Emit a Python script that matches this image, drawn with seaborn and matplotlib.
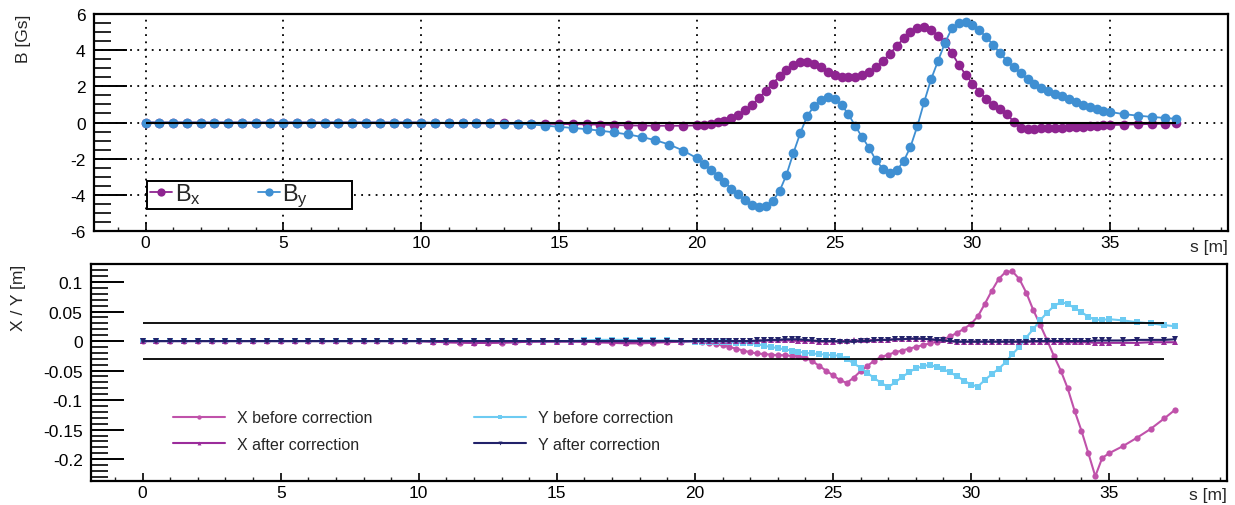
import matplotlib
matplotlib.use("Agg")
import matplotlib.pyplot as plt
import seaborn as sns
from matplotlib.ticker import MultipleLocator, FuncFormatter
from matplotlib.patches import Rectangle

# ---------------- data ----------------
s_flat = [0, 0.5, 1, 1.5, 2, 2.5, 3, 3.5, 4, 4.5, 5, 5.5, 6, 6.5, 7, 7.5, 8, 8.5, 9, 9.5, 10]
s_mid = [10.5, 11, 11.5, 12, 12.5, 13, 13.5, 14, 14.5, 15,
         15.5, 16, 16.5, 17, 17.5, 18, 18.5, 19, 19.5, 20]
s_fine = [20.25, 20.5, 20.75, 21, 21.25, 21.5, 21.75, 22, 22.25, 22.5, 22.75, 23,
          23.25, 23.5, 23.75, 24, 24.25, 24.5, 24.75, 25, 25.25, 25.5, 25.75, 26,
          26.25, 26.5, 26.75, 27, 27.25, 27.5, 27.75, 28, 28.25, 28.5, 28.75, 29,
          29.25, 29.5, 29.75, 30, 30.25, 30.5, 30.75, 31, 31.25, 31.5, 31.75, 32,
          32.25, 32.5, 32.75, 33, 33.25, 33.5, 33.75, 34, 34.25, 34.5, 34.75, 35]
s_end = [35.5, 36, 36.5, 37, 37.4]
s = s_flat + s_mid + s_fine + s_end

Bx = ([0.0] * 21
      + [-0.03, -0.03, -0.04, -0.04, -0.05, -0.05, -0.06, -0.06, -0.07, -0.08,
         -0.09, -0.1, -0.12, -0.14, -0.16, -0.17, -0.18, -0.18, -0.18, -0.16]
      + [-0.12, -0.06, 0.02, 0.11, 0.24, 0.42, 0.67, 0.98, 1.35, 1.75, 2.15, 2.55,
         2.9, 3.17, 3.32, 3.36, 3.26, 3.06, 2.82, 2.63, 2.53, 2.5, 2.52, 2.6,
         2.78, 3.05, 3.4, 3.8, 4.22, 4.65, 5.0, 5.22, 5.27, 5.1, 4.8, 4.45,
         3.85, 3.2, 2.65, 2.15, 1.7, 1.3, 0.97, 0.73, 0.48, 0.02, -0.33, -0.35,
         -0.34, -0.32, -0.31, -0.3, -0.29, -0.27, -0.25, -0.23, -0.21, -0.19, -0.16, -0.14]
      + [-0.12, -0.1, -0.08, -0.06, -0.04])

By = ([0.0] * 21
      + [-0.01, -0.02, -0.02, -0.03, -0.04, -0.06, -0.08, -0.11, -0.17, -0.24,
         -0.3, -0.37, -0.45, -0.55, -0.66, -0.8, -0.98, -1.22, -1.55, -1.97]
      + [-2.3, -2.6, -2.95, -3.3, -3.65, -3.98, -4.3, -4.58, -4.66, -4.6, -4.35, -3.8,
         -2.9, -1.7, -0.6, 0.35, 0.9, 1.25, 1.42, 1.3, 0.98, 0.45, -0.2, -0.82,
         -1.4, -2.1, -2.55, -2.82, -2.65, -2.15, -1.35, -0.2, 1.15, 2.4, 3.4, 4.4,
         5.2, 5.5, 5.57, 5.4, 5.1, 4.72, 4.3, 3.85, 3.4, 3.05, 2.72, 2.4,
         2.12, 1.93, 1.76, 1.6, 1.44, 1.28, 1.12, 0.97, 0.86, 0.75, 0.66, 0.58]
      + [0.46, 0.38, 0.31, 0.25, 0.2])

X_before = ([0.0] * 21
            + [-0.001, -0.002, -0.003, -0.003, -0.003, -0.003, -0.002, -0.001, 0.0, 0.0,
               0.0, -0.001, -0.002, -0.003, -0.004, -0.004, -0.003, -0.002, -0.001, 0.0]
            + [-0.001, -0.003, -0.005, -0.007, -0.01, -0.013, -0.016, -0.019, -0.021, -0.022,
               -0.023, -0.024, -0.024, -0.025, -0.026, -0.028, -0.034, -0.042, -0.05, -0.058,
               -0.066, -0.071, -0.062, -0.051, -0.042, -0.033, -0.027, -0.023, -0.019, -0.016,
               -0.013, -0.01, -0.007, -0.004, -0.001, 0.003, 0.008, 0.014, 0.021, 0.029,
               0.042, 0.063, 0.085, 0.105, 0.117, 0.118, 0.105, 0.082, 0.053, 0.028,
               0.002, -0.025, -0.05, -0.08, -0.118, -0.152, -0.19, -0.229, -0.198, -0.19]
            + [-0.178, -0.164, -0.149, -0.131, -0.116])

Y_before = ([0.0] * 21
            + [0.0] * 10
            + [0.0, 0.001, 0.002, 0.002, 0.002, 0.001, 0.001, 0.001, 0.0, -0.001]
            + [-0.001, -0.001, -0.002, -0.002, -0.002, -0.003, -0.003, -0.003, -0.005, -0.008,
               -0.01, -0.012, -0.014, -0.016, -0.018, -0.02, -0.021, -0.022, -0.023, -0.024,
               -0.025, -0.03, -0.038, -0.045, -0.054, -0.063, -0.071, -0.078, -0.07, -0.061,
               -0.053, -0.046, -0.043, -0.04, -0.044, -0.048, -0.053, -0.06, -0.067, -0.074,
               -0.077, -0.066, -0.056, -0.047, -0.036, -0.022, -0.01, 0.006, 0.02, 0.035,
               0.048, 0.059, 0.066, 0.063, 0.056, 0.049, 0.041, 0.036, 0.036, 0.037]
            + [0.035, 0.032, 0.03, 0.027, 0.025])

X_after = ([0.0] * 21
           + [-0.001, -0.002, -0.002, -0.003, -0.003, -0.002, -0.002, -0.001, -0.001, -0.001,
              -0.001, -0.001, -0.002, -0.002, -0.003, -0.002, -0.002, -0.001, -0.001, 0.0]
           + [0.0, 0.0, 0.0, 0.0, 0.0, 0.0, 0.0, 0.0, 0.0, 0.001,
              0.001, 0.001, 0.001, 0.001, 0.0, 0.0, 0.0, -0.001, -0.001, -0.001,
              0.0, 0.0, 0.001, 0.001, 0.001, 0.002, 0.002, 0.002, 0.003, 0.003,
              0.004, 0.004, 0.004, 0.003, 0.002, 0.001, 0.0, -0.001, -0.001, -0.001,
              -0.001, -0.001, -0.001, -0.001, -0.001, -0.001, -0.001, -0.001, -0.001, -0.001,
              -0.001, -0.001, -0.002, -0.002, -0.002, -0.002, -0.002, -0.003, -0.003, -0.003]
           + [-0.003, -0.003, -0.002, -0.002, -0.002])

Y_after = ([0.0] * 21
           + [0.0] * 10
           + [0.0] * 10
           + [0.0, 0.0, 0.0, 0.0, 0.0, 0.0, 0.0, 0.0, 0.001, 0.001,
              0.002, 0.002, 0.003, 0.003, 0.003, 0.002, 0.001, 0.0, 0.0, 0.0,
              -0.001, -0.001, -0.001, 0.0, 0.0, 0.001, 0.002, 0.002, 0.003, 0.003,
              0.004, 0.004, 0.004, 0.003, 0.002, 0.001, 0.0, -0.001, -0.001, -0.001,
              -0.001, -0.001, -0.001, -0.001, -0.001, -0.001, -0.001, -0.001, 0.0, 0.0,
              0.0, 0.0, 0.0, 0.0, 0.0, 0.0, 0.0, 0.001, 0.001, 0.001]
           + [0.001, 0.002, 0.002, 0.002, 0.003])

aperture = 0.03
aperture_s = [0, 37]

top_labels = [r"$\mathregular{B_x}$", r"$\mathregular{B_y}$"]
bottom_labels = ["X before correction", "X after correction",
                 "Y before correction", "Y after correction"]

for arr in (Bx, By, X_before, Y_before, X_after, Y_after):
    assert len(arr) == len(s), len(arr)

# ---------------- style ----------------
sns.set_style("ticks")
plt.rcParams["font.family"] = ["Liberation Sans", "DejaVu Sans"]
plt.rcParams["axes.unicode_minus"] = False
plt.rcParams["mathtext.fontset"] = "custom"
plt.rcParams["mathtext.rm"] = "Liberation Sans"
plt.rcParams["mathtext.it"] = "Liberation Sans:italic"

c_bx = "#8E2490"
c_by = "#3F8FD2"
c_xb = "#C052AA"
c_xa = "#9B2C9B"
c_yb = "#6DCBF2"
c_ya = "#22226A"

FS = 12.5

W, H = 1235, 506
fig = plt.figure(figsize=(W / 100, H / 100), dpi=100)
ax1 = fig.add_axes([94 / W, 1 - 232 / H, (1228 - 94) / W, 217 / H])
ax2 = fig.add_axes([91 / W, 1 - 482 / H, (1227 - 91) / W, 217 / H])

xlim = (-1.87, 39.27)


def fmt(v, p):
    if abs(v) < 1e-9:
        return "0"
    return f"{v:g}"


def style_axes(ax, ymajor, yminor):
    ax.set_xlim(*xlim)
    for sp in ax.spines.values():
        sp.set_visible(True)
        sp.set_linewidth(1.6)
        sp.set_color("black")
    ax.xaxis.set_major_locator(MultipleLocator(5))
    ax.xaxis.set_minor_locator(MultipleLocator(1))
    ax.yaxis.set_major_locator(MultipleLocator(ymajor))
    ax.yaxis.set_minor_locator(MultipleLocator(yminor))
    ax.xaxis.set_major_formatter(FuncFormatter(fmt))
    ax.yaxis.set_major_formatter(FuncFormatter(fmt))
    ax.tick_params(axis="y", which="major", direction="in", length=24, width=1.4,
                   left=True, right=False, pad=6, labelsize=FS, colors="black")
    ax.tick_params(axis="y", which="minor", direction="in", length=12, width=1.4,
                   left=True, right=False)
    ax.tick_params(axis="x", which="major", direction="in", length=6, width=1.2,
                   bottom=True, top=False, pad=3, labelsize=FS, colors="black")
    ax.tick_params(axis="x", which="minor", direction="in", length=3, width=1.0,
                   bottom=True, top=False)


# ---------------- top panel ----------------
style_axes(ax1, 2, 0.5)
ax1.set_ylim(-6, 6)
ax1.grid(True, which="major", color="black", linestyle=(0, (1, 3)), linewidth=1.3)
sns.lineplot(x=s, y=Bx, ax=ax1, color=c_bx, marker="o", ms=7, mew=0, lw=1.3,
             label=top_labels[0], estimator=None)
sns.lineplot(x=s, y=By, ax=ax1, color=c_by, marker="o", ms=7, mew=0, lw=1.3,
             label=top_labels[1], estimator=None)
ax1.hlines(0, s[0], s[-1], color="black", lw=1.5, zorder=4)
ax1.set_ylabel("B [Gs]", loc="top", fontsize=FS)
ax1.yaxis.set_label_coords(-0.0556, 1.0)
ax1.set_xlabel("s [m]", loc="right", fontsize=FS)
ax1.xaxis.set_label_coords(1.0, -0.035)

h1, l1 = ax1.get_legend_handles_labels()
ax1.add_patch(Rectangle((147 / W, 1 - 210 / H), 205 / W, 28 / H, transform=fig.transFigure,
                        facecolor="white", edgecolor="black", lw=1.4, zorder=5, clip_on=False))
leg1 = ax1.legend(h1, l1, loc="center left", bbox_to_anchor=(150 / W, 1 - 196 / H),
                  bbox_transform=fig.transFigure, ncol=2, frameon=False, fontsize=17,
                  handlelength=0.95, handletextpad=0.1, columnspacing=2.4,
                  borderpad=0, borderaxespad=0, numpoints=1, markerscale=0.85)
leg1.set_zorder(6)

# ---------------- bottom panel ----------------
style_axes(ax2, 0.05, 0.01)
ax2.set_ylim(-0.237, 0.1305)
ax2.grid(False)
sns.lineplot(x=s, y=X_before, ax=ax2, color=c_xb, marker="o", ms=4.5, mew=0, lw=1.5,
             label=bottom_labels[0], estimator=None)
sns.lineplot(x=s, y=Y_before, ax=ax2, color=c_yb, marker="s", ms=5, mew=0, lw=1.5,
             label=bottom_labels[2], estimator=None)
sns.lineplot(x=s, y=X_after, ax=ax2, color=c_xa, marker="^", ms=4, mew=0, lw=1.5,
             label=bottom_labels[1], estimator=None)
sns.lineplot(x=s, y=Y_after, ax=ax2, color=c_ya, marker="v", ms=4, mew=0, lw=1.5,
             label=bottom_labels[3], estimator=None)
ax2.hlines([aperture, -aperture], aperture_s[0], aperture_s[1], color="black", lw=1.3, zorder=4)
ax2.set_ylabel("X / Y [m]", loc="top", fontsize=FS)
ax2.yaxis.set_label_coords(-0.057, 1.0)
ax2.set_xlabel("s [m]", loc="right", fontsize=FS)
ax2.xaxis.set_label_coords(1.0, -0.028)

h2, l2 = ax2.get_legend_handles_labels()
order = [l2.index(t) for t in bottom_labels]
leg2 = ax2.legend([h2[i] for i in order], [l2[i] for i in order], loc="center left",
                  bbox_to_anchor=(173 / W, 1 - 432 / H), bbox_transform=fig.transFigure,
                  ncol=2, frameon=False, fontsize=11.5, handlelength=3.25, handletextpad=0.75,
                  columnspacing=6.4, labelspacing=0.7, borderpad=0, borderaxespad=0,
                  numpoints=1, markerscale=0.7)

fig.savefig("out.png", dpi=100)
